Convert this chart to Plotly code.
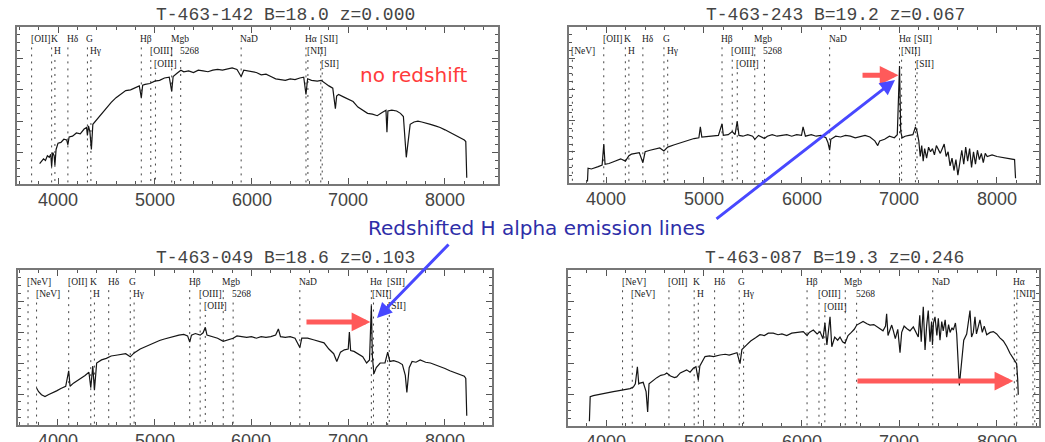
import plotly.graph_objects as go

# ------------------------------------------------------------------ data
titles = ["T-463-142 B=18.0 z=0.000", "T-463-243 B=19.2 z=0.067",
          "T-463-049 B=18.6 z=0.103", "T-463-087 B=19.3 z=0.246"]
redshifts = [0.000, 0.067, 0.103, 0.246]
tick_labels = [4000, 5000, 6000, 7000, 8000]

line_rest = [3346, 3426, 3727, 3934, 3968, 4102, 4304, 4340, 4861, 4959, 5007,
             5175, 5268, 5893, 6563, 6583, 6716, 6731]
line_names = ["[NeV]", "[NeV]", "[OII]", "K", "H", "Hδ", "G", "Hγ", "Hβ", "[OIII]",
              "[OIII]", "Mgb", "5268", "NaD", "Hα", "[NII]", "[SII]", "[SII]"]

# panel 1 : T-463-142 (relative flux)
wl1 = [3810, 3830, 3850, 3870, 3890, 3910, 3925, 3934, 3945, 3960, 3968, 3980, 4000,
       4030, 4060, 4090, 4102, 4115, 4150, 4190, 4230, 4270, 4295, 4304, 4315, 4330,
       4345, 4360, 4400, 4450, 4500, 4550, 4600, 4650, 4700, 4750, 4800, 4840, 4861,
       4875, 4900, 4950, 5000, 5050, 5100, 5150, 5175, 5190, 5230, 5270, 5300, 5350,
       5400, 5450, 5500, 5550, 5600, 5650, 5700, 5750, 5800, 5850, 5893, 5920, 5960,
       6000, 6050, 6100, 6150, 6200, 6250, 6300, 6350, 6400, 6450, 6500, 6540, 6563,
       6580, 6620, 6680, 6720, 6760, 6800, 6840, 6867, 6880, 6900, 6950, 7000, 7050,
       7100, 7150, 7200, 7250, 7300, 7350, 7390, 7400, 7410, 7450, 7500, 7540, 7570,
       7600, 7620, 7640, 7680, 7720, 7760, 7800, 7850, 7900, 7950, 8000, 8050, 8100,
       8150, 8200, 8215, 8225]
fx1 = [13, 14.5, 16, 15, 18, 17, 19, 11, 20, 18, 12, 22, 26,
       26.5, 28.5, 28, 25, 30, 30.5, 32.5, 32, 35, 36, 31, 37, 33,
       22, 38, 41, 45, 49, 52, 55, 57, 59.5, 60, 61.5, 62.5, 55,
       63, 63.5, 64, 65.5, 66, 67.5, 68, 59, 68.5, 70.5, 72.5, 71.5, 72,
       71, 72.5, 72, 71.5, 72.5, 73, 72.5, 73.5, 74, 73, 68.5, 72.5, 72,
       71.5, 71, 69.5, 70, 68.5, 67, 66.5, 66, 67, 66.5, 67.5, 68, 57,
       67, 66, 65.5, 66, 64, 62.5, 61, 48, 56, 57, 55.5, 54, 52.5,
       49, 47, 45, 44.5, 43.5, 45.5, 47, 33, 46.5, 47, 46.5, 45, 43,
       17, 30, 38, 39.5, 40, 39.5, 39, 38, 37, 36, 34.5, 33, 31.5,
       30, 28, 27, 4]

# panel 2 : T-463-243
wl2 = [3810, 3816, 3850, 3880, 3920, 3960, 3977, 3990, 4030, 4070, 4110, 4150, 4198,
       4234, 4260, 4300, 4340, 4377, 4400, 4450, 4500, 4550, 4592, 4631, 4700, 4750,
       4800, 4850, 4900, 4950, 4965, 4980, 5050, 5100, 5150, 5187, 5200, 5250, 5291,
       5320, 5342, 5360, 5400, 5450, 5500, 5522, 5560, 5621, 5650, 5700, 5750, 5800,
       5850, 5900, 5950, 6000, 6016, 6040, 6100, 6150, 6200, 6250, 6270, 6288, 6300,
       6350, 6400, 6450, 6500, 6550, 6600, 6650, 6700, 6750, 6780, 6800, 6850, 6900,
       6950, 6980, 7003, 7015, 7030, 7060, 7100, 7140, 7166, 7182, 7200, 7215, 7230,
       7245, 7260, 7280, 7300, 7320, 7340, 7360, 7380, 7400, 7420, 7440, 7460, 7480,
       7500, 7520, 7540, 7560, 7580, 7600, 7620, 7640, 7660, 7680, 7700, 7720, 7740,
       7760, 7780, 7800, 7820, 7840, 7860, 7880, 7900, 7950, 8000, 8050, 8100, 8150,
       8180, 8190]
fx2 = [1, 9.5, 9, 9.5, 10.5, 11.5, 25, 12, 12.5, 13.5, 14.5, 15.5, 14,
       17.5, 18.5, 19, 19.5, 13, 20, 21, 22, 22.5, 20.5, 23, 24.5, 25.5,
       27, 27.5, 28.5, 29, 36, 29.5, 30, 30, 30.5, 38, 30.5, 31, 33,
       31, 39.5, 30.5, 30, 31, 30, 28, 30.5, 28.5, 30, 31, 30, 30.5,
       31, 30, 31, 30.5, 36, 30, 31, 30, 30.5, 29, 26, 21, 28,
       30, 29.5, 30.5, 30, 29, 30, 30.5, 29.5, 27, 24, 27, 28, 30,
       29, 31, 75, 33, 29, 30, 30.5, 31, 36, 33, 27, 17, 24,
       14, 22, 16, 23, 20, 22, 18, 24, 21, 19, 22, 25, 17,
       20, 11, 16, 8, 15, 5, 13, 21, 12, 23, 14, 22, 10,
       20, 12, 21, 15, 19, 13, 19, 17, 18, 17, 16.5, 16, 15.5,
       15, 3]

# panel 3 : T-463-049
wl3 = [3780, 3800, 3830, 3866, 3900, 3940, 3986, 4030, 4080, 4111, 4125, 4160, 4200,
       4240, 4280, 4320, 4339, 4360, 4377, 4400, 4450, 4500, 4550, 4600, 4650, 4700,
       4747, 4787, 4850, 4900, 4950, 5000, 5050, 5100, 5150, 5200, 5250, 5300, 5340,
       5362, 5380, 5420, 5470, 5500, 5523, 5540, 5600, 5650, 5708, 5750, 5811, 5850,
       5900, 5950, 6000, 6050, 6100, 6150, 6200, 6250, 6278, 6300, 6350, 6400, 6450,
       6500, 6520, 6580, 6640, 6700, 6750, 6800, 6850, 6882, 6920, 6960, 7000, 7012,
       7025, 7060, 7100, 7150, 7190, 7220, 7239, 7250, 7265, 7290, 7330, 7380, 7408,
       7430, 7470, 7520, 7560, 7590, 7606, 7630, 7660, 7700, 7744, 7800, 7850, 7900,
       7950, 8000, 8050, 8100, 8150, 8200, 8215, 8225]
fx3 = [23.7, 21.5, 19.5, 18.3, 19.5, 20.5, 22, 23.5, 25, 35, 25, 27, 28.5,
       30, 32, 34, 24, 38, 22.5, 40, 42, 43, 44.5, 45, 45.5, 46,
       44, 46.5, 49, 50.5, 51.5, 53, 54.5, 55.5, 56.5, 57, 58, 58.5, 57.5,
       53.5, 58, 59, 58, 59.5, 63, 58, 57, 56, 54, 55, 56, 57.5,
       57, 56.5, 57, 56, 57, 56.5, 57, 58, 62, 57, 56.5, 57, 56,
       50, 56, 56, 55, 54, 53, 49, 46, 41, 47, 48.5, 49, 60,
       48, 47.5, 46, 44, 40, 42, 77, 44, 33, 37, 40, 40, 47,
       41, 41.5, 40.5, 39, 32, 21, 37, 41, 40.5, 42, 40.5, 40, 39,
       38, 36.5, 35, 34, 33, 31.5, 30, 6]

# panel 4 : T-463-087
wl4 = [3830, 3838, 3870, 3905, 3950, 4000, 4040, 4075, 4120, 4160, 4200, 4246, 4280,
       4300, 4321, 4335, 4348, 4380, 4410, 4426, 4440, 4484, 4520, 4560, 4600, 4621,
       4660, 4700, 4723, 4760, 4800, 4825, 4860, 4893, 4920, 4944, 4960, 4990, 5013,
       5060, 5100, 5166, 5220, 5260, 5302, 5340, 5371, 5390, 5439, 5480, 5530, 5575,
       5620, 5660, 5711, 5760, 5800, 5849, 5900, 5950, 6018, 6057, 6080, 6121, 6160,
       6189, 6220, 6240, 6260, 6292, 6310, 6340, 6370, 6394, 6420, 6445, 6476, 6510,
       6540, 6565, 6600, 6630, 6670, 6701, 6740, 6769, 6800, 6834, 6860, 6871, 6885,
       6923, 6940, 6960, 6985, 7008, 7025, 7050, 7076, 7110, 7144, 7170, 7195, 7210,
       7225, 7246, 7264, 7280, 7297, 7315, 7331, 7340, 7350, 7366, 7385, 7400, 7417,
       7435, 7450, 7470, 7485, 7505, 7520, 7540, 7553, 7575, 7588, 7615, 7638, 7660,
       7690, 7705, 7724, 7740, 7758, 7775, 7790, 7810, 7826, 7850, 7870, 7895, 7930,
       7963, 7997, 8030, 8065, 8100, 8133, 8170, 8201, 8212, 8218]
fx4 = [3, 18.8, 19.5, 20, 20.5, 21, 21.5, 22, 22.5, 23, 23.5, 24, 25,
       27, 38, 27, 27.5, 28, 22, 9, 27, 29.5, 31, 32.5, 33, 34,
       32, 31, 31.5, 34, 35, 36, 34.5, 37, 38, 29.5, 38.5, 42, 44.5,
       45, 44.5, 45.5, 46, 45.5, 46.5, 47, 40, 49, 52, 54.5, 56.5, 58.5,
       58, 59.5, 59.5, 58.5, 59, 58, 59.5, 60, 60.5, 58, 60, 61.5, 59,
       60.5, 56, 66, 52, 70, 50.8, 57, 55, 57, 54, 53, 58, 60,
       62, 64.7, 66, 67, 65.5, 64.7, 65, 63.7, 62.5, 61, 64, 72, 58,
       64.7, 61, 56, 62, 47, 60, 64, 62.5, 61, 63.5, 60, 57, 71,
       54, 76.5, 48.7, 64, 74, 54, 67, 52, 66, 70, 58, 69, 55,
       67, 61, 68, 57, 65, 60, 63, 61.5, 66, 59, 26, 40, 55,
       59, 66, 74, 57, 60, 70, 59, 64, 68, 60, 64, 58.5, 60,
       60.5, 59, 56.5, 54.5, 51, 46.6, 43, 40, 30, 20]

spectra = [(wl1, fx1), (wl2, fx2), (wl3, fx3), (wl4, fx4)]

# ------------------------------------------------------------------ layout / style
W, H = 1045, 442


def px(x):
    return x / W


def py(y):
    return 1 - y / H


label_row = [1, 2, 1, 1, 2, 1, 1, 2, 1, 2, 3, 1, 2, 1, 1, 2, 1, 3]
row_y = {1: 92.5, 2: 84.5, 3: 76.5}
# pixel boxes (left, top, right, bottom) and x ranges of each panel
boxes = [(17, 27, 498, 184), (569, 27, 1039, 183), (18, 270, 492, 425), (568, 270, 1039, 426)]
xranges = [(3576, 8548), (3621, 8430), (3587, 8486), (3611, 8430)]
title_pos = [(285, 15), (835, 15), (285, 258), (834, 258)]
ticklabel_gap = 16            # px from box bottom to tick label centre
red_arrow = [None, (6609, 69), (6553, 66.5), (6557, 28.8)]

fig = go.Figure()
annotations = []
layout_axes = {}

for i in range(4):
    n = i + 1
    xa = "x" if n == 1 else f"x{n}"
    ya = "y" if n == 1 else f"y{n}"
    l, t, r, b = boxes[i]
    x0, x1 = xranges[i]
    z = redshifts[i]

    # dotted identification lines
    lx, ly = [], []
    for rest, row in zip(line_rest, label_row):
        lam = rest * (1 + z)
        if x0 + 5 < lam < x1 - 5:
            lx += [lam, lam, None]
            ly += [row_y[row] - 5.5, 0, None]
    fig.add_trace(go.Scatter(x=lx, y=ly, mode="lines", xaxis=xa, yaxis=ya,
                             line=dict(color="#444", width=1, dash="2px,5px"),
                             hoverinfo="skip", showlegend=False))

    # spectrum
    wl, fx = spectra[i]
    fig.add_trace(go.Scatter(x=wl, y=fx, mode="lines", xaxis=xa, yaxis=ya,
                             line=dict(color="#151515", width=1.2),
                             showlegend=False))

    # line labels
    for rest, name, row in zip(line_rest, line_names, label_row):
        lam = rest * (1 + z)
        if x0 + 5 < lam < x1 - 110:
            annotations.append(dict(x=lam, y=row_y[row], xref=xa, yref=ya,
                                    text=name, showarrow=False, xanchor="left",
                                    yanchor="middle", xshift=-2, borderpad=0,
                                    font=dict(family="Liberation Serif", size=9.5, color="#1a1a1a")))

    # wavelength tick labels
    for v in tick_labels:
        annotations.append(dict(x=v, y=py(b + ticklabel_gap), xref=xa, yref="paper",
                                text=str(v), showarrow=False, xanchor="center",
                                yanchor="middle",
                                font=dict(family="Liberation Sans", size=18, color="#444")))

    # title
    tx, ty = title_pos[i]
    annotations.append(dict(x=px(tx), y=py(ty), xref="paper", yref="paper",
                            xanchor="center", yanchor="middle",
                            text=titles[i], showarrow=False,
                            font=dict(family="Liberation Mono", size=18, color="#444")))

    # red arrow pointing to (redshifted) H alpha
    if red_arrow[i] is not None:
        ax_, ay_ = red_arrow[i]
        annotations.append(dict(x=6563 * (1 + z) - 10, y=ay_, ax=ax_, ay=ay_,
                                xref=xa, yref=ya, axref=xa, ayref=ya, text="",
                                showarrow=True, arrowhead=2, arrowsize=0.75,
                                arrowwidth=5, arrowcolor="#ff5a5a"))

    layout_axes[("xaxis" if n == 1 else f"xaxis{n}")] = dict(
        domain=[px(l), px(r)], range=[x0, x1], anchor=ya,
        tickmode="array", tickvals=tick_labels, showticklabels=False,
        ticks="inside", ticklen=6, tickcolor="#555", tickwidth=1,
        minor=dict(tickmode="linear", tick0=4000, dtick=200, ticks="inside", ticklen=3,
                   tickcolor="#555"),
        showline=True, linecolor="#777", linewidth=1.5, mirror="allticks",
        showgrid=False, zeroline=False)
    layout_axes[("yaxis" if n == 1 else f"yaxis{n}")] = dict(
        domain=[py(b), py(t)], range=[0, 100], anchor=xa,
        tickmode="linear", tick0=0, dtick=20, ticks="inside", ticklen=6,
        tickcolor="#555", showticklabels=False,
        minor=dict(tickmode="linear", tick0=0, dtick=5, ticks="inside", ticklen=3,
                   tickcolor="#555"),
        showline=True, linecolor="#777", linewidth=1.5, mirror="allticks",
        showgrid=False, zeroline=False)

# free text
annotations.append(dict(x=px(413), y=py(75), xref="paper", yref="paper",
                        xanchor="center", yanchor="middle",
                        text="no redshift", showarrow=False,
                        font=dict(family="DejaVu Sans", size=20, color="#ff3b3b")))
annotations.append(dict(x=px(536), y=py(228), xref="paper", yref="paper",
                        xanchor="center", yanchor="middle",
                        text="Redshifted H alpha emission lines", showarrow=False,
                        font=dict(family="DejaVu Sans", size=20, color="#2e2ea8")))
# blue arrows from the caption to the H alpha peaks
annotations.append(dict(x=px(895), y=py(80), xref="paper", yref="paper",
                        ax=-180, ay=140, text="", showarrow=True, arrowhead=2,
                        arrowsize=1, arrowwidth=3, arrowcolor="#4848ff"))
annotations.append(dict(x=px(377), y=py(318), xref="paper", yref="paper",
                        ax=73, ay=-75, text="", showarrow=True, arrowhead=2,
                        arrowsize=1, arrowwidth=3, arrowcolor="#4848ff"))

fig.update_layout(width=W, height=H, margin=dict(l=0, r=0, t=0, b=0),
                  paper_bgcolor="white", plot_bgcolor="white",
                  annotations=annotations, showlegend=False, **layout_axes)

# remove the default page margin so the 1045x442 figure fills the window exactly
fig.write_html("out.html", post_script="document.body.style.margin='0px';",
               config={"displayModeBar": False})
